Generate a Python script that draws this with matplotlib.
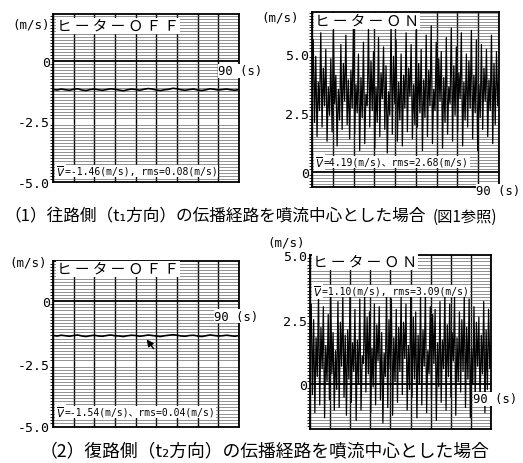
import numpy as np
import matplotlib
matplotlib.use("Agg")
from matplotlib import pyplot as plt
from matplotlib.ticker import MultipleLocator

# heater OFF, path (1): nearly flat trace around -1.2 m/s
off_1 = [-1.18, -1.20, -1.16, -1.19, -1.21, -1.17, -1.15, -1.20, -1.22, -1.18,
         -1.16, -1.19, -1.21, -1.18, -1.15, -1.17, -1.20, -1.23, -1.19, -1.16,
         -1.18, -1.21, -1.17, -1.14, -1.16, -1.20, -1.22, -1.19, -1.17, -1.13,
         -1.15, -1.19, -1.21, -1.18, -1.16, -1.20, -1.22, -1.19, -1.15, -1.17,
         -1.20, -1.18, -1.16, -1.19, -1.21, -1.18]
# heater ON, path (1)
on_1 = [3.4, 5.6, 2.1, 4.9, 1.5, 3.8, 2.6, 5.9, 1.9, 4.4,
        2.8, 5.2, 1.3, 3.6, 2.4, 4.8, 1.7, 6.0, 2.9, 4.1,
        1.1, 3.5, 2.2, 5.4, 1.8, 4.6, 3.0, 5.8, 2.0, 3.9,
        1.4, 4.3, 2.7, 6.2, 1.6, 3.7, 2.5, 5.0, 0.9, 4.0,
        2.3, 5.5, 1.2, 3.3, 2.8, 6.1, 1.9, 4.7, 2.6, 5.1,
        1.0, 3.6, 2.1, 5.7, 1.5, 4.2, 3.1, 5.3, 1.8, 4.5,
        0.8, 3.4, 2.4, 6.3, 1.6, 4.9, 2.9, 5.6, 1.3, 3.8,
        2.2, 5.0, 1.1, 4.1, 2.7, 5.9, 1.7, 4.4, 3.2, 5.4,
        1.4, 3.7, 2.0, 6.0, 1.9, 4.6, 2.5, 5.2, 0.9, 3.9,
        2.3, 5.8, 1.5, 4.3, 2.8, 6.2, 1.2, 3.5, 2.6, 5.5,
        1.8, 4.8, 3.0, 5.1, 1.0, 4.0, 2.1, 5.7, 1.6, 3.6,
        2.9, 6.1, 1.3, 4.5, 2.4, 5.3, 1.7, 4.2, 3.1, 5.9,
        1.1, 3.8, 2.2, 5.0, 1.9, 4.7, 2.7, 6.0, 1.4, 4.1,
        2.5, 5.6, 0.9, 3.7, 2.3, 5.4, 1.8, 4.4, 3.0, 5.2,
        1.5, 3.9, 2.6, 5.8, 1.2, 4.6, 2.0, 5.1, 2.8, 4.3]
# heater OFF, path (2)
off_2 = [-1.38, -1.40, -1.37, -1.39, -1.41, -1.38, -1.36, -1.40, -1.42, -1.39,
         -1.37, -1.40, -1.41, -1.38, -1.36, -1.39, -1.40, -1.42, -1.39, -1.37,
         -1.38, -1.41, -1.39, -1.36, -1.38, -1.40, -1.42, -1.39, -1.37, -1.35,
         -1.37, -1.40, -1.41, -1.38, -1.37, -1.40, -1.42, -1.39, -1.36, -1.38,
         -1.40, -1.39, -1.37, -1.39, -1.41, -1.38]
# heater ON, path (2)
on_2 = [1.2, 3.1, -0.4, 2.5, -1.1, 1.8, 0.3, 3.5, -0.8, 2.2,
        0.6, 3.0, -1.3, 1.5, 0.1, 2.7, -0.6, 3.6, 0.4, 2.0,
        -1.0, 1.3, -0.2, 3.2, -0.9, 2.4, 0.7, 3.4, -0.5, 1.9,
        -1.2, 2.1, 0.2, 3.7, -0.7, 1.6, 0.5, 2.9, -1.4, 1.7,
        0.0, 3.3, -1.0, 1.1, 0.8, 3.5, -0.3, 2.6, 0.4, 2.8,
        -1.1, 1.4, -0.1, 3.1, -0.8, 2.3, 0.9, 3.0, -0.6, 2.0,
        -1.5, 1.2, 0.3, 3.6, -0.9, 2.5, 0.6, 3.3, -1.2, 1.8,
        0.1, 2.9, -0.7, 2.2, 0.5, 3.4, -0.4, 2.4, 1.0, 3.1,
        -1.0, 1.5, -0.2, 3.7, -0.5, 2.6, 0.2, 2.8, -1.3, 1.9,
        0.0, 3.5, -0.8, 2.1, 0.7, 3.6, -1.1, 1.3, 0.4, 3.0,
        -0.6, 2.7, 0.8, 2.9, -1.4, 1.6, -0.1, 3.2, -0.7, 1.7,
        0.6, 3.6, -1.0, 2.3, 0.3, 3.1, -0.5, 2.0, 0.9, 3.4,
        -1.2, 1.8, 0.1, 2.8, -0.3, 2.5, 0.5, 3.5, -0.9, 2.2,
        0.2, 3.3, -1.3, 1.4, 0.0, 3.0, -0.6, 2.4, 0.7, 2.6,
        -0.8, 1.9, 0.4, 3.2, -1.1, 2.1, -0.2, 2.9, 0.6, 1.5]

stats = ["=-1.46(m/s), rms=0.08(m/s)", "=4.19(m/s)、rms=2.68(m/s)",
         "=-1.54(m/s)、rms=0.04(m/s)", "=1.10(m/s), rms=3.09(m/s)"]
yticks = [[0, -2.5, -5.0], [5.0, 2.5, 0], [0, -2.5, -5.0], [5.0, 2.5, 0]]
yticklabels = [["0", "-2.5", "-5.0"], ["5.0", "2.5", "0"],
               ["0", "-2.5", "-5.0"], ["5.0", "2.5", "0"]]
titles = ["ヒ ー タ ー Ｏ Ｆ Ｆ", "ヒ ー タ ー Ｏ Ｎ", "ヒ ー タ ー Ｏ Ｆ Ｆ", "ヒ ー タ ー Ｏ Ｎ"]
caption_1 = "（1）往路側（t₁方向）の伝播経路を噴流中心とした場合"
caption_1b = "(図1参照)"
caption_2 = "（2）復路側（t₂方向）の伝播経路を噴流中心とした場合"

W, H = 523, 464
MONO = ["DejaVu Sans Mono", "Noto Sans CJK JP"]
JP = ["Noto Sans CJK JP", "DejaVu Sans"]


def px(x, y):
    return x / W, 1 - y / H


def make_axes(fig, left, top, right, bottom, ylim):
    ax = fig.add_axes([left / W, 1 - bottom / H, (right - left) / W, (bottom - top) / H])
    ax.set_xlim(0, 90)
    ax.set_ylim(*ylim)
    ax.xaxis.set_major_locator(MultipleLocator(10))
    ax.yaxis.set_minor_locator(MultipleLocator(0.125))
    ax.grid(True, which="major", axis="x", color="black", lw=1.0)
    ax.grid(True, which="minor", axis="y", color="#555555", lw=0.45)
    ax.tick_params(length=0, labelbottom=False, pad=2)
    for s in ax.spines.values():
        s.set_linewidth(1.3)
    return ax


fig = plt.figure(figsize=(W / 100, H / 100), dpi=100)

panels = [
    # series, axes box (l, t, r, b) in px, ylim
    (off_1, (53, 15, 239, 183), (-5.0, 1.94)),
    (on_1, (312, 13, 499, 188), (-0.64, 6.78)),
    (off_2, (53, 262, 239, 428), (-5.04, 1.6)),
    (on_2, (310, 256, 491, 430), (-1.73, 5.0)),
]
# label positions in px: (m/s), title, stats, 90 (s)
label_pos = [
    ((12, 25), (57, 27), (56, 172), (218, 72)),
    ((261, 18), (315, 22), (315, 163), (476, 192)),
    ((9, 263), (57, 270), (56, 413), (214, 317)),
    ((267, 243), (313, 263), (313, 292), (473, 400)),
]

white = dict(facecolor="white", edgecolor="none", pad=0.5)
axes = []
for i, (series, box, ylim) in enumerate(panels):
    ax = make_axes(fig, *box, ylim)
    t = np.linspace(0, 90, len(series))
    ax.plot(t, series, color="black", lw=0.9 if i % 2 else 1.2)
    ax.axhline(0, color="black", lw=1.3)
    ax.set_yticks(yticks[i])
    ax.set_yticklabels(yticklabels[i], fontfamily=MONO, fontsize=9.5)
    axes.append(ax)

    ms, tt, st, ss = label_pos[i]
    fig.text(*px(*ms), "(m/s)", fontfamily=MONO, fontsize=9, va="center")
    fig.text(*px(*tt), titles[i], fontfamily=JP, fontsize=10.5, va="center", bbox=white)
    fig.text(*px(*st), r"$\overline{V}$", fontsize=7.5, va="center", bbox=white)
    fig.text(*px(st[0] + 9, st[1]), stats[i], fontfamily=MONO, fontsize=7,
             va="center", bbox=white)
    fig.text(*px(*ss), "90 (s)", fontfamily=MONO, fontsize=8.8, va="center",
             bbox=dict(facecolor="white", edgecolor="none", pad=0.2))

# small arrow pointing at the OFF trace of path (2)
axes[2].annotate("", xy=(44.5, -1.45), xytext=(49.5, -2.0),
                 arrowprops=dict(arrowstyle="-|>", color="black", lw=1.0))

fig.text(*px(4, 216), caption_1, fontfamily=JP, fontsize=12, va="center")
fig.text(*px(433, 217), caption_1b, fontfamily=JP, fontsize=11, va="center")
fig.text(*px(40, 451), caption_2, fontfamily=JP, fontsize=12.8, va="center")

fig.savefig("out.png", dpi=100, facecolor="white")
